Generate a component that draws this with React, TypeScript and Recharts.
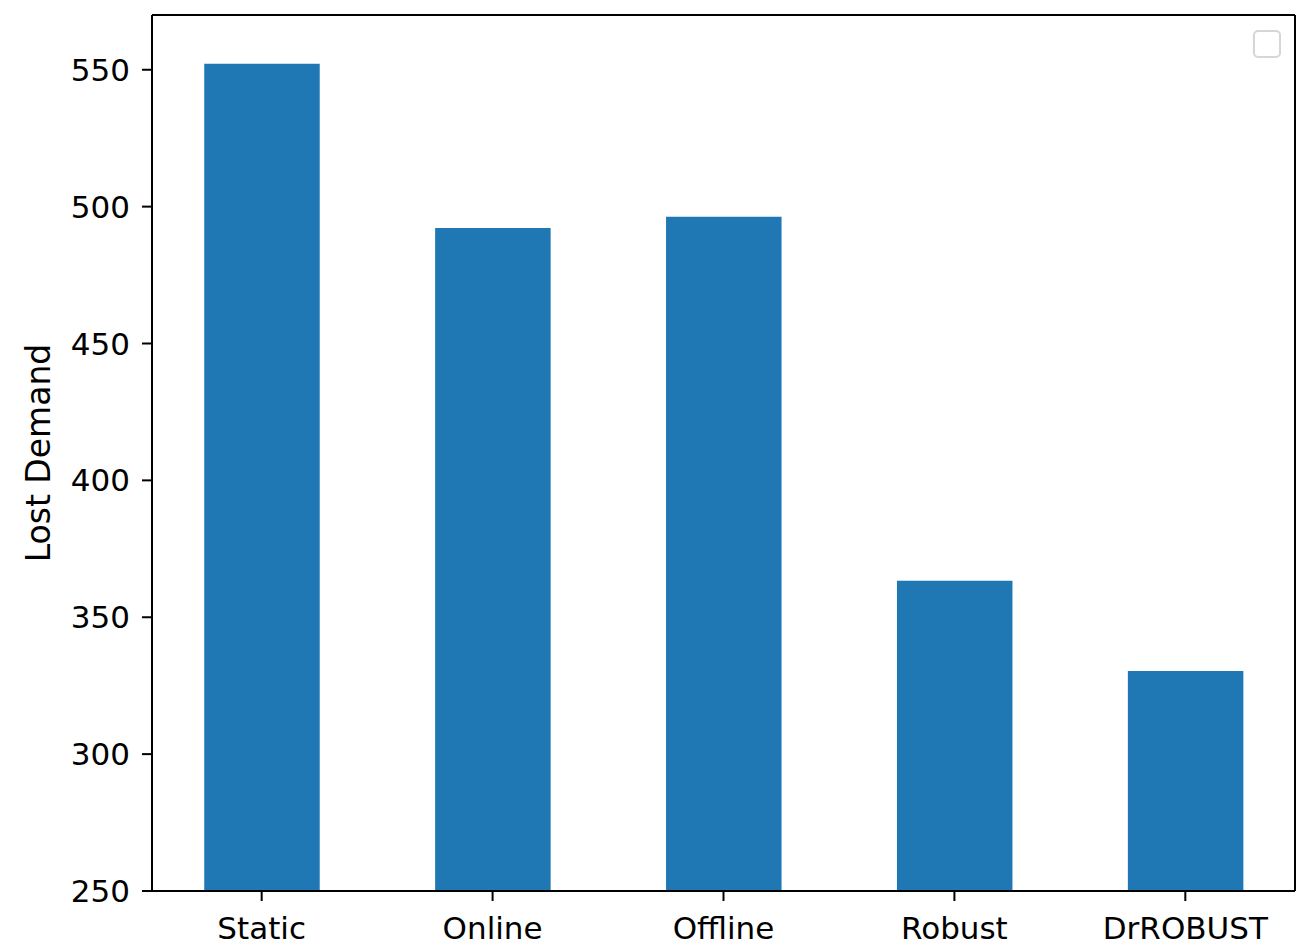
import { BarChart, Bar, XAxis, YAxis, ReferenceLine } from "recharts";

const methods = ["Static", "Online", "Offline", "Robust", "DrROBUST"];
const lostDemand = [552.2, 492.2, 496.3, 363.3, 330.4];
const yTicks = [250, 300, 350, 400, 450, 500, 550];

const data = methods.map((name, i) => ({ pos: i, name, value: lostDemand[i] }));

const font = "DejaVu Sans";
const tickStyle = { fontFamily: font, fontSize: 31, fill: "#000" };

export default function App() {
  return (
    <div style={{ position: "absolute", left: 0, top: 0, width: 1303, height: 945, background: "#fff" }}>
      <BarChart
        width={1303}
        height={945}
        data={data}
        margin={{ top: 15, right: 8, left: 0, bottom: 0 }}
        barCategoryGap={0}
      >
        <XAxis
          dataKey="pos"
          type="number"
          domain={[-0.475, 4.475]}
          ticks={[0, 1, 2, 3, 4]}
          tickFormatter={(v: number) => methods[v]}
          height={54}
          tickSize={10}
          tickMargin={16}
          tick={tickStyle}
          axisLine={{ stroke: "#000", strokeWidth: 2 }}
          tickLine={{ stroke: "#000", strokeWidth: 2 }}
          allowDataOverflow
        />
        <YAxis
          domain={[250, 570]}
          ticks={yTicks}
          width={152}
          tickSize={10}
          tickMargin={12}
          tick={tickStyle}
          axisLine={{ stroke: "#000", strokeWidth: 2 }}
          tickLine={{ stroke: "#000", strokeWidth: 2 }}
          allowDataOverflow
          label={{
            value: "Lost Demand",
            angle: -90,
            position: "insideLeft",
            offset: 38,
            style: { textAnchor: "middle", fontFamily: font, fontSize: 33, fill: "#000" },
          }}
        />
        <Bar dataKey="value" fill="#1f77b4" barSize={115.5} isAnimationActive={false} />
        <ReferenceLine y={570} stroke="#000" strokeWidth={2} ifOverflow="extendDomain" />
        <ReferenceLine x={4.475} stroke="#000" strokeWidth={2} ifOverflow="extendDomain" />
      </BarChart>
      <div
        style={{
          position: "absolute",
          left: 1253,
          top: 30,
          width: 24,
          height: 24,
          border: "2px solid #d6d6d6",
          borderRadius: 5,
        }}
      />
    </div>
  );
}
